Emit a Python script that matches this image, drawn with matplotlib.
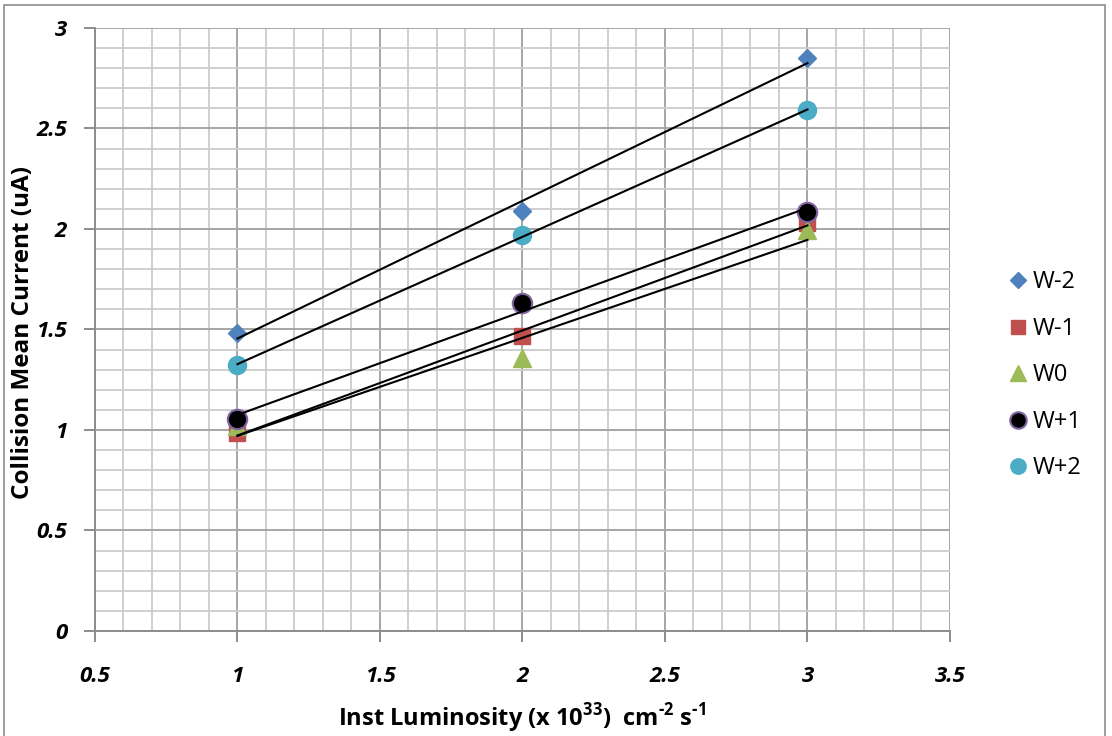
import numpy as np
import matplotlib
matplotlib.use("Agg")
import matplotlib.pyplot as plt
from matplotlib.patches import Rectangle

plt.rcParams['font.family'] = ['Open Sans', 'DejaVu Sans']
plt.rcParams['mathtext.fontset'] = 'custom'
plt.rcParams['mathtext.rm'] = 'Open Sans:bold'
plt.rcParams['mathtext.bf'] = 'Open Sans:bold'

# Luminosity points (x 10^33 cm^-2 s^-1)
lumi = [1, 2, 3]

# Mean collision current per wheel (uA)
w_m2 = [1.48, 2.09, 2.85]
w_m1 = [0.985, 1.47, 2.03]
w_0 = [1.02, 1.36, 1.995]
w_p1 = [1.055, 1.63, 2.085]
w_p2 = [1.323, 1.97, 2.59]

x_ticks = [0.5, 1, 1.5, 2, 2.5, 3, 3.5]
x_labels = ["0.5", "1", "1.5", "2", "2.5", "3", "3.5"]
y_ticks = [0, 0.5, 1, 1.5, 2, 2.5, 3]
y_labels = ["0", "0.5", "1", "1.5", "2", "2.5", "3"]

series = [
    ("W-2", w_m2, dict(marker="D", color="#4F81BD", mec="#4F81BD", ms=9)),
    ("W-1", w_m1, dict(marker="s", color="#C0504D", mec="#C0504D", ms=12)),
    ("W0", w_0, dict(marker="^", color="#9BBB59", mec="#9BBB59", ms=13)),
    ("W+1", w_p1, dict(marker="o", color="black", mec="#8064A2", mew=1.5, ms=14)),
    ("W+2", w_p2, dict(marker="o", color="#4BACC6", mec="#4BACC6", ms=13)),
]

fig = plt.figure(figsize=(11.12, 7.36), dpi=100)
ax = fig.add_axes([0.0854, 0.1427, 0.7689, 0.8193])

# grey frame round the whole chart
fig.patches.append(Rectangle((0.004, -0.02), 0.99, 1.013, transform=fig.transFigure,
                             fill=False, edgecolor="#8c8c8c", lw=1.2))

handles = []
for name, vals, style in series:
    h, = ax.plot(lumi, vals, ls="none", label=name, zorder=3, **style)
    handles.append(h)

# linear trend lines
xs = np.array([1, 3])
for name, vals, style in series:
    k, b = np.polyfit(lumi, vals, 1)
    ax.plot(xs, k * xs + b, color="black", lw=1.5, zorder=4)

ax.set_xlim(0.5, 3.5)
ax.set_ylim(0, 3)
ax.set_xticks(x_ticks)
ax.set_yticks(y_ticks)
ax.set_xticks(np.arange(0.5, 3.51, 0.1), minor=True)
ax.set_yticks(np.arange(0, 3.01, 0.1), minor=True)
ax.set_xticklabels(x_labels, fontweight="bold", fontstyle="italic", fontsize=16)
ax.set_yticklabels(y_labels, fontweight="bold", fontstyle="italic", fontsize=16)
ax.grid(which="major", color="#a6a6a6", lw=1.4)
ax.grid(which="minor", color="#cccccc", lw=1.3)
ax.set_axisbelow(True)

for s in ["top", "right"]:
    ax.spines[s].set_visible(False)
for s in ["left", "bottom"]:
    ax.spines[s].set_color("#8c8c8c")
    ax.spines[s].set_linewidth(1.4)

ax.tick_params(which="major", direction="out", length=8, width=1.4, color="#8c8c8c")
ax.tick_params(which="minor", length=0)
ax.tick_params(axis="x", pad=17)
ax.tick_params(axis="y", pad=12)

ax.set_xlabel(r"Inst Luminosity (x 10$^{\text{33}}$)  cm$^{\text{-2}}$ s$^{\text{-1}}$",
              fontsize=17, fontweight="bold", va="center")
ax.set_ylabel("Collision Mean Current (uA)", fontsize=17.5, fontweight="bold", va="center")
ax.xaxis.set_label_coords(0.5, -0.144)
ax.yaxis.set_label_coords(-0.084, 0.495)

fig.legend(handles=handles, loc="center left", bbox_to_anchor=(0.888, 0.49),
           frameon=False, fontsize=17, labelspacing=0.95, handlelength=0.8,
           handletextpad=0.2, markerscale=0.85)

fig.savefig("out.png", dpi=100)
